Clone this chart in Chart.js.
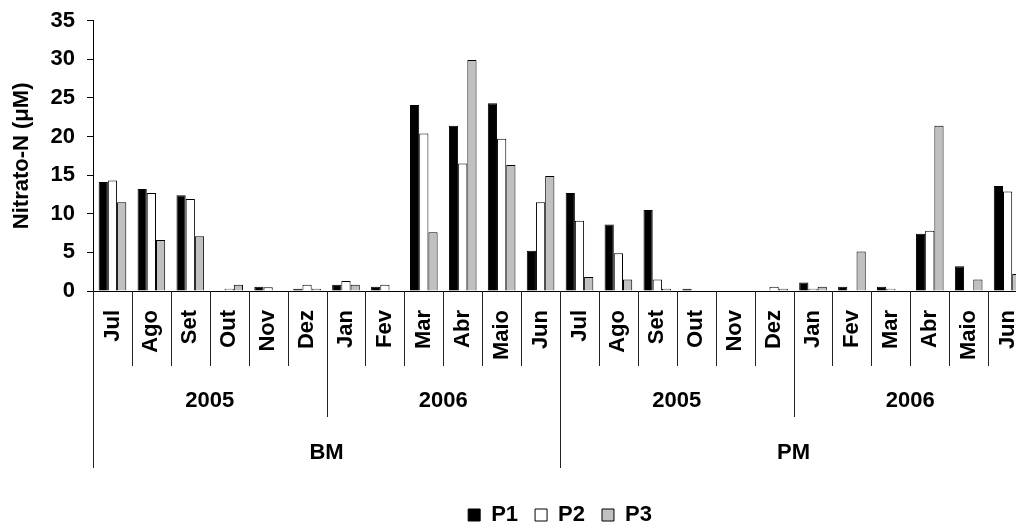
<!DOCTYPE html>
<html>
<head>
<meta charset="utf-8">
<script src="https://cdn.jsdelivr.net/npm/chart.js@4/dist/chart.umd.min.js"></script>
<style>
  html, body { margin: 0; padding: 0; background: #fff; overflow: hidden; }
  #wrap { width: 1053px; height: 527px; }
</style>
</head>
<body>
<div id="wrap"><canvas id="c" width="1053" height="527"></canvas></div>
<script>
const months = ['Jul','Ago','Set','Out','Nov','Dez','Jan','Fev','Mar','Abr','Maio','Jun',
                'Jul','Ago','Set','Out','Nov','Dez','Jan','Fev','Mar','Abr','Maio','Jun'];
const years = ['2005','2006','2005','2006'];
const sites = ['BM','PM'];
const p1 = [14.1,13.2,12.4,0,0.55,0.3, 0.8,0.55,24.1,21.4,24.3,5.2,
            12.7,8.6,10.5,0.3,0,0, 1.1,0.55,0.55,7.4,3.2,13.6];
const p2 = [14.3,12.7,11.9,0.3,0.5,0.8, 1.3,0.8,20.4,16.5,19.7,11.5,
            9.1,4.9,1.5,0,0,0.55, 0.3,0,0.3,7.8,0,12.9];
const p3 = [11.5,6.6,7.1,0.8,0,0.3, 0.8,0,7.6,29.9,16.3,14.9,
            1.8,1.5,0.3,0,0,0.3, 0.55,5.1,0,21.4,1.5,2.2];
const yTicks = [0,5,10,15,20,25,30,35];

const FONT = 'Liberation Sans, Arial, sans-serif';
const FS = 22;

const groupPlugin = {
  id: 'groups',
  afterDraw(chart) {
    const ctx = chart.ctx;
    const xs = chart.scales.x;
    const n = months.length;
    const w = (xs.right - xs.left) / n;
    const y0 = chart.chartArea.bottom;
    const yMonth = y0 + 75, yYear = y0 + 126, ySite = y0 + 177;
    ctx.save();
    ctx.strokeStyle = '#222';
    ctx.lineWidth = 1;
    for (let i = 0; i <= n; i++) {
      const x = Math.round(xs.getPixelForValue(i) - w / 2) + 0.5;
      let yEnd = yMonth;
      if (i % 6 === 0) yEnd = yYear;
      if (i % 12 === 0) yEnd = ySite;
      ctx.beginPath();
      ctx.moveTo(x, y0);
      ctx.lineTo(x, yEnd);
      ctx.stroke();
    }
    ctx.fillStyle = '#000';
    ctx.font = 'bold ' + FS + 'px ' + FONT;
    ctx.textAlign = 'center';
    ctx.textBaseline = 'middle';
    years.forEach((t, k) => {
      const a = xs.getPixelForValue(k * 6) - w / 2;
      const b = xs.getPixelForValue(k * 6 + 5) + w / 2;
      ctx.fillText(t, (a + b) / 2, y0 + 110);
    });
    sites.forEach((t, k) => {
      const a = xs.getPixelForValue(k * 12) - w / 2;
      const b = xs.getPixelForValue(k * 12 + 11) + w / 2;
      ctx.fillText(t, (a + b) / 2, y0 + 162);
    });
    ctx.restore();
  }
};

const ds = (label, data, color) => ({
  label, data,
  backgroundColor: color,
  borderColor: '#000',
  borderWidth: 1,
  categoryPercentage: 0.71,
  barPercentage: 1.0
});

new Chart(document.getElementById('c'), {
  type: 'bar',
  data: {
    labels: months,
    datasets: [ds('P1', p1, '#000000'), ds('P2', p2, '#ffffff'), ds('P3', p3, '#c0c0c0')]
  },
  options: {
    responsive: false,
    animation: false,
    devicePixelRatio: 1,
    layout: { padding: { left: 0, right: 0, top: 20.7, bottom: -9 } },
    plugins: {
      tooltip: { enabled: false },
      legend: {
        position: 'bottom',
        fullSize: false,
        labels: {
          color: '#000',
          font: { family: FONT, size: FS, weight: 'bold' },
          boxWidth: 12, boxHeight: 12,
          padding: 17,
          generateLabels(chart) {
            return chart.data.datasets.map((d, i) => ({
              text: d.label, fillStyle: d.backgroundColor, strokeStyle: '#000',
              lineWidth: 1, datasetIndex: i, fontColor: '#000'
            }));
          }
        }
      }
    },
    scales: {
      x: {
        grid: { drawOnChartArea: false, drawTicks: false, display: true },
        border: { color: '#000', width: 1 },
        ticks: {
          color: '#000', font: { family: FONT, size: FS, weight: 'bold' },
          minRotation: 90, maxRotation: 90, padding: 19, autoSkip: false
        },
        afterFit(s) { s.height = 196; }
      },
      y: {
        min: 0, max: 35,
        afterBuildTicks(s) { s.ticks = yTicks.map(v => ({ value: v })); },
        grid: { drawOnChartArea: false, color: '#000', tickLength: 6 },
        border: { color: '#000', width: 1 },
        ticks: { color: '#000', font: { family: FONT, size: FS, weight: 'bold' }, padding: 12 },
        title: {
          display: true, text: 'Nitrato-N (μM)', color: '#000',
          font: { family: FONT, size: FS, weight: 'bold' },
          padding: { top: 9, bottom: 0 }
        },
        afterFit(s) { s.width = 93; s.paddingTop = 0; }
      }
    }
  },
  plugins: [groupPlugin]
});
</script>
</body>
</html>
